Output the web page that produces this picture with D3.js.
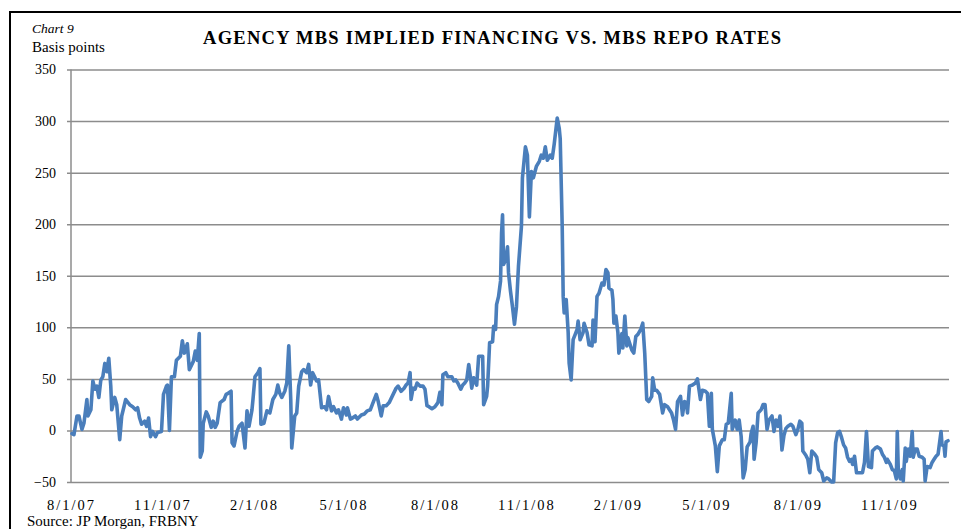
<!DOCTYPE html>
<html>
<head>
<meta charset="utf-8">
<script src="https://cdn.jsdelivr.net/npm/d3@7"></script>
<style>
  body { margin: 0; background: #fff; }
  text { font-family: "Liberation Serif", "Times New Roman", serif; fill: #000; }
</style>
</head>
<body>
<div id="chart"></div>
<script>
// implied financing minus repo, basis points
const dates = [
  '2007-08-02','2007-08-04','2007-08-07','2007-08-09','2007-08-12','2007-08-14','2007-08-17','2007-08-18','2007-08-21','2007-08-23',
  '2007-08-25','2007-08-27','2007-08-29','2007-08-31','2007-09-02','2007-09-04','2007-09-06','2007-09-08','2007-09-10','2007-09-11',
  '2007-09-14','2007-09-16','2007-09-19','2007-09-21','2007-09-25','2007-09-29','2007-10-02','2007-10-05','2007-10-07','2007-10-09',
  '2007-10-11','2007-10-14','2007-10-16','2007-10-18','2007-10-20','2007-10-22','2007-10-25','2007-10-27','2007-10-31','2007-11-02',
  '2007-11-05','2007-11-06','2007-11-08','2007-11-10','2007-11-13','2007-11-15','2007-11-19','2007-11-21','2007-11-23','2007-11-26',
  '2007-11-28','2007-12-02','2007-12-04','2007-12-06','2007-12-08','2007-12-09','2007-12-11','2007-12-12','2007-12-15','2007-12-17',
  '2007-12-20','2007-12-22','2007-12-24','2007-12-26','2007-12-29','2008-01-02','2008-01-04','2008-01-06','2008-01-09','2008-01-10',
  '2008-01-12','2008-01-15','2008-01-17','2008-01-20','2008-01-23','2008-01-25','2008-01-27','2008-01-30','2008-01-31','2008-02-02',
  '2008-02-05','2008-02-07','2008-02-08','2008-02-11','2008-02-14','2008-02-17','2008-02-20','2008-02-23','2008-02-25','2008-02-27',
  '2008-02-29','2008-03-03','2008-03-05','2008-03-07','2008-03-09','2008-03-10','2008-03-13','2008-03-15','2008-03-17','2008-03-20',
  '2008-03-22','2008-03-25','2008-03-27','2008-03-29','2008-03-31','2008-04-02','2008-04-04','2008-04-06','2008-04-09','2008-04-12',
  '2008-04-14','2008-04-16','2008-04-19','2008-04-21','2008-04-24','2008-04-26','2008-04-29','2008-05-01','2008-05-04','2008-05-05',
  '2008-05-08','2008-05-10','2008-05-13','2008-05-15','2008-05-19','2008-05-22','2008-05-25','2008-05-28','2008-05-30','2008-06-03',
  '2008-06-05','2008-06-08','2008-06-10','2008-06-13','2008-06-16','2008-06-19','2008-06-23','2008-06-25','2008-06-28','2008-07-01',
  '2008-07-03','2008-07-05','2008-07-07','2008-07-08','2008-07-10','2008-07-12','2008-07-14','2008-07-17','2008-07-20','2008-07-22',
  '2008-07-24','2008-07-26','2008-07-29','2008-08-01','2008-08-04','2008-08-06','2008-08-08','2008-08-09','2008-08-12','2008-08-14',
  '2008-08-18','2008-08-20','2008-08-22','2008-08-24','2008-08-27','2008-08-29','2008-08-31','2008-09-02','2008-09-04','2008-09-06',
  '2008-09-07','2008-09-09','2008-09-12','2008-09-14','2008-09-18','2008-09-19','2008-09-22','2008-09-23','2008-09-25','2008-09-28',
  '2008-09-29','2008-10-01','2008-10-02','2008-10-04','2008-10-06','2008-10-07','2008-10-08','2008-10-09','2008-10-11','2008-10-13',
  '2008-10-14','2008-10-16','2008-10-18','2008-10-20','2008-10-22','2008-10-24','2008-10-27','2008-10-28','2008-10-31','2008-11-02',
  '2008-11-04','2008-11-06','2008-11-08','2008-11-11','2008-11-14','2008-11-16','2008-11-18','2008-11-20','2008-11-22','2008-11-25',
  '2008-11-27','2008-11-29','2008-12-02','2008-12-04','2008-12-05','2008-12-07','2008-12-08','2008-12-09','2008-12-11','2008-12-13',
  '2008-12-14','2008-12-16','2008-12-18','2008-12-20','2008-12-22','2008-12-23','2008-12-25','2008-12-28','2008-12-29','2009-01-01',
  '2009-01-03','2009-01-06','2009-01-07','2009-01-09','2009-01-11','2009-01-13','2009-01-16','2009-01-18','2009-01-20','2009-01-22',
  '2009-01-23','2009-01-26','2009-01-27','2009-01-28','2009-01-30','2009-02-01','2009-02-02','2009-02-05','2009-02-06','2009-02-08',
  '2009-02-10','2009-02-11','2009-02-15','2009-02-17','2009-02-19','2009-02-21','2009-02-24','2009-02-26','2009-02-28','2009-03-02',
  '2009-03-04','2009-03-07','2009-03-08','2009-03-10','2009-03-12','2009-03-15','2009-03-18','2009-03-20','2009-03-23','2009-03-27',
  '2009-03-29','2009-03-31','2009-04-02','2009-04-05','2009-04-07','2009-04-09','2009-04-11','2009-04-12','2009-04-14','2009-04-17',
  '2009-04-20','2009-04-22','2009-04-25','2009-04-27','2009-04-30','2009-05-02','2009-05-04','2009-05-06','2009-05-07','2009-05-10',
  '2009-05-12','2009-05-14','2009-05-17','2009-05-19','2009-05-21','2009-05-23','2009-05-26','2009-05-27','2009-05-30','2009-06-01',
  '2009-06-03','2009-06-05','2009-06-07','2009-06-09','2009-06-11','2009-06-14','2009-06-15','2009-06-17','2009-06-18','2009-06-20',
  '2009-06-22','2009-06-25','2009-06-27','2009-06-29','2009-07-01','2009-07-03','2009-07-06','2009-07-08','2009-07-10','2009-07-12',
  '2009-07-14','2009-07-16','2009-07-18','2009-07-20','2009-07-22','2009-07-25','2009-07-27','2009-07-30','2009-08-01','2009-08-03',
  '2009-08-05','2009-08-06','2009-08-09','2009-08-11','2009-08-13','2009-08-15','2009-08-18','2009-08-20','2009-08-22','2009-08-25',
  '2009-08-27','2009-08-30','2009-09-01','2009-09-04','2009-09-06','2009-09-08','2009-09-10','2009-09-12','2009-09-14','2009-09-16',
  '2009-09-18','2009-09-20','2009-09-22','2009-09-24','2009-09-25','2009-09-27','2009-09-29','2009-10-01','2009-10-05','2009-10-07',
  '2009-10-09','2009-10-11','2009-10-14','2009-10-15','2009-10-18','2009-10-20','2009-10-23','2009-10-25','2009-10-27','2009-10-29',
  '2009-10-30','2009-11-02','2009-11-04','2009-11-06','2009-11-08','2009-11-09','2009-11-10','2009-11-12','2009-11-14','2009-11-15',
  '2009-11-17','2009-11-18','2009-11-20','2009-11-22','2009-11-24','2009-11-25','2009-11-27','2009-11-29','2009-12-01','2009-12-04',
  '2009-12-06','2009-12-07','2009-12-09','2009-12-12','2009-12-14','2009-12-16','2009-12-18','2009-12-20','2009-12-23','2009-12-24',
  '2009-12-26','2009-12-27','2009-12-28','2009-12-30'
]
const spread = [
  -3, -4, 14, 14, 1, 7, 30, 14, 20, 48,
  40, 43, 32, 49, 52, 65, 57, 70, 43, 20,
  32, 25, -9, 14, 30, 25, 23, 20, 22, 12,
  6, 9, 4, 12, -6, -1, -6, -2, -1, 35,
  43, 44, 0, 52, 52, 68, 72, 87, 75, 84,
  59, 67, 77, 68, 94, -26, -20, 7, 18, 14,
  3, 9, 3, 7, 27, 30, 35, 36, 38, -12,
  -15, -1, 4, 7, -17, 19, 4, 20, 30, 52,
  56, 60, 6, 7, 19, 17, 30, 35, 44, 36,
  32, 38, 46, 82, 30, -17, 14, 17, 43, 57,
  59, 56, 64, 44, 56, 52, 48, 49, 22, 23,
  20, 33, 19, 23, 17, 20, 11, 22, 15, 22,
  11, 12, 14, 11, 15, 16, 19, 20, 25, 35,
  28, 14, 24, 24, 27, 33, 41, 43, 38, 41,
  44, 46, 56, 30, 41, 40, 46, 43, 43, 40,
  24, 23, 21, 23, 27, 37, 25, 54, 56, 52,
  52, 48, 49, 46, 40, 44, 46, 49, 64, 50,
  41, 51, 44, 72, 72, 25, 33, 43, 85, 86,
  101, 98, 122, 130, 145, 191, 209, 161, 165, 178,
  153, 135, 120, 103, 120, 159, 198, 245, 275, 267,
  207, 251, 245, 256, 261, 267, 264, 275, 262, 267,
  264, 278, 303, 293, 283, 198, 130, 114, 127, 95,
  65, 49, 88, 93, 98, 106, 88, 95, 104, 95,
  83, 82, 107, 86, 130, 133, 143, 141, 156, 153,
  138, 136, 127, 104, 111, 95, 75, 94, 80, 111,
  82, 90, 78, 75, 91, 93, 98, 104, 75, 30,
  28, 33, 51, 39, 39, 35, 17, 25, 23, 17,
  10, 1, 28, 33, 15, 28, 27, 17, 43, 44,
  46, 50, 30, 39, 38, 36, 4, 36, 1, -15,
  -40, -15, -9, -9, 6, 7, 36, 1, 10, 1,
  10, -6, -46, -38, -16, -11, -3, 4, -28, -12,
  17, 20, 25, 25, 1, 10, 14, -1, 10, 4,
  14, -19, -5, 2, 4, 6, 4, -4, 1, 9,
  7, -20, -24, -28, -41, -20, -23, -26, -38, -41,
  -49, -46, -47, -50, -50, -12, -2, -1, -7, -14,
  -17, -26, -30, -28, -33, -25, -41, -41, -41, -31,
  -1, -35, -36, -20, -17, -16, -18, -23, -26, -31,
  -28, -33, -38, -39, -47, -1, -38, -47, -38, -49,
  -17, -30, -18, -25, -1, -26, -18, -18, -25, -26,
  -28, -49, -35, -36, -31, -28, -25, -23, -1, -14,
  -15, -25, -11, -10
]
const yTicks = [-50, 0, 50, 100, 150, 200, 250, 300, 350]
const xTicks = ['2007-08-01', '2007-11-01', '2008-02-01', '2008-05-01', '2008-08-01',
  '2008-11-01', '2009-02-01', '2009-05-01', '2009-08-01', '2009-11-01']

const width = 961
const height = 529
const plotLeft = 71
const plotRight = 949
const plotTop = 69.5
const plotBottom = 482

const parse = d3.timeParse('%Y-%m-%d')
const n = Math.min(dates.length, spread.length)
const data = dates.slice(0, n).map((d, i) => ({ date: parse(d), value: spread[i] }))

const svg = d3.select('#chart').append('svg')
  .attr('width', width)
  .attr('height', height)

// frame (top and left rules only)
svg.append('line').attr('x1', 9).attr('x2', width).attr('y1', 12).attr('y2', 12)
  .attr('stroke', '#000').attr('stroke-width', 2)
svg.append('line').attr('x1', 10).attr('x2', 10).attr('y1', 11).attr('y2', height)
  .attr('stroke', '#000').attr('stroke-width', 2)

const x = d3.scaleTime()
  .domain([parse('2007-08-01'), parse('2009-12-31')])
  .range([plotLeft, plotRight])

const y = d3.scaleLinear()
  .domain([-50, 350])
  .range([plotBottom, plotTop])

// gridlines + y labels
const yAxis = svg.append('g')
  .attr('transform', `translate(${plotLeft - 4},0)`)
  .call(d3.axisLeft(y).tickValues(yTicks).tickSizeInner(-(plotRight - plotLeft + 4)).tickSizeOuter(0).tickPadding(11))
yAxis.select('.domain').remove()
yAxis.selectAll('.tick line').attr('stroke', '#8c8c8c').attr('stroke-width', 1.5)
yAxis.selectAll('.tick text')
  .style('font-family', '"Liberation Serif", serif')
  .style('font-size', '14px')
  .attr('fill', '#000')

// vertical axis rule
svg.append('line')
  .attr('x1', plotLeft).attr('x2', plotLeft).attr('y1', plotTop).attr('y2', plotBottom)
  .attr('stroke', '#8c8c8c').attr('stroke-width', 1.5)

// x labels
const fmt = d3.timeFormat('%-m/%-d/%y')
const xAxis = svg.append('g')
  .attr('transform', `translate(0,${plotBottom})`)
  .call(d3.axisBottom(x).tickValues(xTicks.map(parse)).tickFormat(fmt).tickSize(0).tickPadding(18))
xAxis.select('.domain').remove()
xAxis.selectAll('.tick text')
  .style('font-family', '"Liberation Serif", serif')
  .style('font-size', '14.5px')
  .style('letter-spacing', '2px')
  .attr('fill', '#000')

// series
const line = d3.line()
  .x(d => x(d.date))
  .y(d => y(d.value))

svg.append('path')
  .datum(data)
  .attr('d', line)
  .attr('fill', 'none')
  .attr('stroke', '#4a7ebb')
  .attr('stroke-width', 3.6)
  .attr('stroke-linejoin', 'round')
  .attr('stroke-linecap', 'round')

// titles
svg.append('text')
  .attr('x', 32).attr('y', 33)
  .style('font-size', '13.5px')
  .style('font-style', 'italic')
  .text('Chart 9')

svg.append('text')
  .attr('x', 32).attr('y', 52)
  .style('font-size', '15px')
  .text('Basis points')

svg.append('text')
  .attr('x', 492).attr('y', 44)
  .attr('text-anchor', 'middle')
  .attr('textLength', 578)
  .attr('lengthAdjust', 'spacing')
  .style('font-size', '18.5px')
  .style('font-weight', 'bold')
  .text('AGENCY MBS IMPLIED FINANCING VS. MBS REPO RATES')

svg.append('text')
  .attr('x', 27).attr('y', 526)
  .style('font-size', '15px')
  .text('Source: JP Morgan, FRBNY')
</script>
</body>
</html>
